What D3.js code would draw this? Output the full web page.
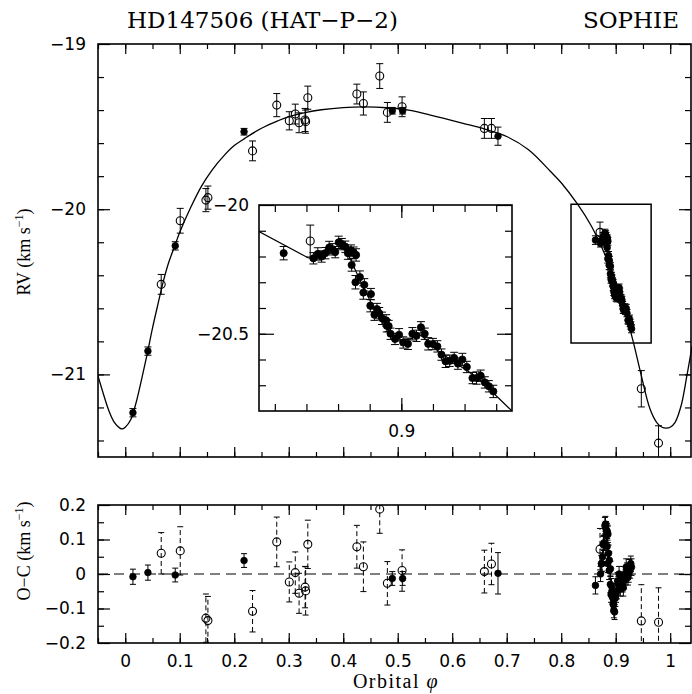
<!DOCTYPE html>
<html><head><meta charset="utf-8">
<script src="https://cdn.jsdelivr.net/npm/d3@7/dist/d3.min.js"></script>
<style>html,body{margin:0;padding:0;background:#fff;}svg{display:block;}</style>
</head><body>
<svg id="chart" width="692" height="694"></svg>
<script>
// ---------- text ----------
const titleText = "HD147506 (HAT−P−2)";
const instrumentText = "SOPHIE";
const xAxisTitle = ["Orbital ", "φ"];
const rvAxisTitle = ["RV (km s", "−1", ")"];
const ocAxisTitle = ["O−C (km s", "−1", ")"];

// ---------- ticks ----------
const xTickValues = [0, 0.1, 0.2, 0.3, 0.4, 0.5, 0.6, 0.7, 0.8, 0.9, 1];
const xTickLabels = ["0", "0.1", "0.2", "0.3", "0.4", "0.5", "0.6", "0.7", "0.8", "0.9", "1"];
const rvTickValues = [-19, -20, -21];
const rvTickLabels = ["−19", "−20", "−21"];
const ocTickValues = [0.2, 0.1, 0, -0.1, -0.2];
const ocTickLabels = ["0.2", "0.1", "0", "−0.1", "−0.2"];
const insetXTickValues = [0.9];
const insetXTickLabels = ["0.9"];
const insetYTickValues = [-20, -20.5];
const insetYTickLabels = ["−20", "−20.5"];

// ---------- domains ----------
const phaseDomain = [-0.05, 1.04];
const rvDomain = [-21.5, -19];
const ocDomain = [-0.2, 0.2];
const insetPhaseDomain = [0.855, 0.935];
const insetRVDomain = [-20.8, -20.0];
const zoomBoxPhase = [0.818, 0.965];
const zoomBoxRV = [-20.81, -19.97];

// ---------- data: out-of-transit measurements ----------
const obsPhase  = [0.0141, 0.0416, 0.066, 0.0917, 0.1009, 0.148, 0.1517, 0.218, 0.2336, 0.278, 0.301, 0.312, 0.319, 0.330, 0.331, 0.335, 0.425, 0.437, 0.467, 0.481, 0.490, 0.508, 0.509, 0.659, 0.672, 0.684, 0.947, 0.9786];
const obsRV     = [-21.232, -20.859, -20.455, -20.222, -20.070, -19.945, -19.930, -19.531, -19.647, -19.370, -19.465, -19.424, -19.477, -19.460, -19.470, -19.325, -19.303, -19.360, -19.194, -19.414, -19.404, -19.380, -19.404, -19.511, -19.511, -19.558, -21.087, -21.416];
const obsErr    = [0.025, 0.025, 0.060, 0.025, 0.075, 0.070, 0.070, 0.020, 0.060, 0.070, 0.055, 0.060, 0.060, 0.070, 0.070, 0.070, 0.060, 0.070, 0.075, 0.060, 0.020, 0.060, 0.020, 0.060, 0.060, 0.055, 0.110, 0.105];
const obsFilled = [1, 1, 0, 1, 0, 0, 0, 1, 0, 0, 0, 0, 0, 0, 0, 0, 0, 0, 0, 0, 1, 0, 1, 0, 0, 1, 0, 0];
const obsOC     = [-0.008, 0.004, 0.060, -0.003, 0.067, -0.128, -0.135, 0.039, -0.108, 0.093, -0.023, 0.004, -0.056, -0.038, -0.049, 0.086, 0.079, 0.021, 0.188, -0.027, -0.013, 0.010, -0.013, 0.007, 0.029, 0.002, -0.136, -0.140];
const obsOCErr  = [0.022, 0.022, 0.060, 0.020, 0.070, 0.070, 0.070, 0.020, 0.060, 0.072, 0.058, 0.060, 0.058, 0.060, 0.070, 0.070, 0.062, 0.072, 0.070, 0.063, 0.020, 0.060, 0.020, 0.062, 0.060, 0.060, 0.105, 0.100];

// ---------- data: transit night (inset) ----------
const trPhase = [0.8628, 0.8712, 0.8722, 0.8736, 0.8748, 0.8760, 0.8772, 0.8783, 0.8791, 0.8802, 0.8812, 0.8823, 0.8831, 0.8841, 0.8849, 0.8857, 0.8843, 0.8855, 0.8869, 0.8880, 0.8883, 0.8904, 0.8902, 0.8915, 0.8923, 0.8930, 0.8939, 0.8952, 0.8960, 0.8954, 0.8966, 0.8980, 0.8993, 0.9006, 0.9021, 0.9035, 0.9048, 0.9062, 0.9074, 0.9085, 0.9100, 0.9114, 0.9127, 0.9140, 0.9153, 0.9167, 0.9179, 0.9193, 0.9207, 0.9225, 0.9238, 0.9251, 0.9264, 0.9277, 0.9291];
const trRV    = [-20.187, -20.140, -20.207, -20.190, -20.200, -20.187, -20.165, -20.172, -20.183, -20.145, -20.152, -20.162, -20.187, -20.177, -20.185, -20.194, -20.233, -20.300, -20.280, -20.340, -20.310, -20.346, -20.391, -20.426, -20.404, -20.420, -20.440, -20.448, -20.470, -20.469, -20.500, -20.520, -20.504, -20.534, -20.539, -20.500, -20.508, -20.475, -20.500, -20.539, -20.540, -20.549, -20.581, -20.607, -20.605, -20.594, -20.616, -20.600, -20.629, -20.672, -20.672, -20.663, -20.689, -20.704, -20.724];
const trErr   = [0.026, 0.062, 0.022, 0.024, 0.022, 0.022, 0.024, 0.022, 0.022, 0.024, 0.022, 0.022, 0.024, 0.022, 0.022, 0.024, 0.024, 0.026, 0.024, 0.026, 0.024, 0.022, 0.024, 0.022, 0.022, 0.022, 0.024, 0.022, 0.022, 0.024, 0.022, 0.022, 0.024, 0.022, 0.022, 0.024, 0.022, 0.022, 0.022, 0.024, 0.022, 0.022, 0.022, 0.024, 0.022, 0.022, 0.022, 0.024, 0.022, 0.022, 0.024, 0.022, 0.022, 0.022, 0.024];
const trFilled = [1, 0, 1, 1, 1, 1, 1, 1, 1, 1, 1, 1, 1, 1, 1, 1, 1, 1, 1, 1, 1, 1, 1, 1, 1, 1, 1, 1, 1, 1, 1, 1, 1, 1, 1, 1, 1, 1, 1, 1, 1, 1, 1, 1, 1, 1, 1, 1, 1, 1, 1, 1, 1, 1, 1];
const trOC    = [-0.033, 0.072, 0.000, 0.030, 0.030, 0.050, 0.085, 0.090, 0.090, 0.140, 0.145, 0.130, 0.115, 0.125, 0.120, 0.115, 0.080, 0.030, 0.060, 0.010, 0.040, 0.015, -0.030, -0.060, -0.035, -0.050, -0.065, -0.070, -0.090, -0.085, -0.105, -0.110, -0.070, -0.060, -0.050, -0.020, -0.030, 0.000, -0.020, -0.040, -0.030, -0.020, -0.030, -0.040, -0.020, 0.000, -0.010, 0.020, 0.010, -0.010, 0.000, 0.020, 0.010, 0.030, 0.020];
const trOCErr = [0.025, 0.060, 0.022, 0.024, 0.022, 0.022, 0.024, 0.022, 0.022, 0.024, 0.022, 0.022, 0.024, 0.022, 0.022, 0.024, 0.024, 0.026, 0.024, 0.026, 0.024, 0.022, 0.024, 0.022, 0.022, 0.022, 0.024, 0.022, 0.022, 0.024, 0.022, 0.022, 0.024, 0.022, 0.022, 0.024, 0.022, 0.022, 0.022, 0.024, 0.022, 0.022, 0.022, 0.024, 0.022, 0.022, 0.022, 0.024, 0.022, 0.022, 0.024, 0.022, 0.022, 0.022, 0.024];

// ---------- model curves ----------
const modelPhase = [-0.05, -0.04, -0.03, -0.02, -0.01, -0.005, 0.0, 0.01, 0.02, 0.03, 0.04, 0.05, 0.06, 0.07, 0.08, 0.09, 0.10, 0.12, 0.14, 0.16, 0.18, 0.20, 0.22, 0.25, 0.28, 0.30, 0.33, 0.36, 0.40, 0.44, 0.48, 0.52, 0.56, 0.62, 0.66, 0.70, 0.74, 0.78, 0.80, 0.83, 0.855, 0.87, 0.89, 0.91, 0.932, 0.945, 0.963, 0.975, 0.985, 0.993, 1.0, 1.009, 1.02, 1.03, 1.04];
const modelRV    = [-21.01, -21.12, -21.22, -21.29, -21.325, -21.33, -21.32, -21.275, -21.17, -21.03, -20.88, -20.72, -20.575, -20.435, -20.32, -20.23, -20.14, -19.99, -19.86, -19.76, -19.68, -19.615, -19.57, -19.51, -19.465, -19.44, -19.415, -19.398, -19.385, -19.381, -19.386, -19.40, -19.43, -19.48, -19.515, -19.56, -19.64, -19.77, -19.84, -19.97, -20.10, -20.20, -20.35, -20.53, -20.80, -20.98, -21.21, -21.29, -21.32, -21.325, -21.32, -21.29, -21.19, -21.02, -20.83];
const insetModelPhase = [0.855, 0.8705, 0.8725, 0.876, 0.8795, 0.8815, 0.8835, 0.888, 0.893, 0.8965, 0.900, 0.903, 0.9055, 0.9075, 0.911, 0.916, 0.921, 0.926, 0.9295, 0.935];
const insetModelRV    = [-20.103, -20.205, -20.21, -20.195, -20.17, -20.165, -20.20, -20.32, -20.44, -20.50, -20.525, -20.52, -20.50, -20.52, -20.56, -20.605, -20.645, -20.69, -20.735, -20.80];

// ================= drawing =================
const svg = d3.select("#chart");
const SERIF = "'DejaVu Serif', serif";
const LSERIF = "'Liberation Serif', serif";
const SANS = "'DejaVu Sans', sans-serif";

const L = 98, R = 692, T1 = 44, B1 = 457, T2 = 505, B2 = 643;
const IL = 259, IR = 512, IT = 205, IB = 411;

const x = d3.scaleLinear().domain(phaseDomain).range([L, R]);
const y = d3.scaleLinear().domain(rvDomain).range([B1, T1]);
const yo = d3.scaleLinear().domain(ocDomain).range([B2, T2]);
const xi = d3.scaleLinear().domain(insetPhaseDomain).range([IL, IR]);
const yi = d3.scaleLinear().domain(insetRVDomain).range([IB, IT]);

const obs = obsPhase.map((p, i) => ({p, v: obsRV[i], e: obsErr[i], f: obsFilled[i], oc: obsOC[i], oce: obsOCErr[i]}));
const tr = trPhase.map((p, i) => ({p, v: trRV[i], e: trErr[i], f: trFilled[i], oc: trOC[i], oce: trOCErr[i]}));
const all = obs.concat(tr);

const defs = svg.append("defs");
function clip(id, x0, y0, x1, y1) {
  defs.append("clipPath").attr("id", id).append("rect")
    .attr("x", x0).attr("y", y0).attr("width", x1 - x0).attr("height", y1 - y0);
}
clip("cMain", L, T1, R, B1);
clip("cLow", L, T2, R, B2);
clip("cIn", IL, IT, IR, IB);

function styleAxis(g, font, size) {
  g.select(".domain").remove();
  g.selectAll(".tick line").attr("stroke", "#000").attr("stroke-width", 1.2);
  g.attr("font-family", font).attr("font-size", size);
  g.selectAll("text").attr("fill", "#000");
}
function addAxis(gen, tx, ty, font, size) {
  const g = svg.append("g").attr("transform", `translate(${tx},${ty})`).call(gen);
  styleAxis(g, font, size);
  return g;
}

// ---- title ----
svg.append("text").attr("x", 127).attr("y", 28).attr("font-family", SERIF).attr("font-size", 23).text(titleText);
svg.append("text").attr("x", 679).attr("y", 28).attr("text-anchor", "end").attr("font-family", SERIF).attr("font-size", 23).text(instrumentText);

// ---- panel axes ----
const xMinor = d3.range(-0.05, 1.045, 0.05);
function xAxes(top, bottom) {
  addAxis(d3.axisBottom(x).tickValues(xMinor).tickSize(-5).tickFormat(""), 0, bottom, SANS, 17);
  addAxis(d3.axisTop(x).tickValues(xMinor).tickSize(-5).tickFormat(""), 0, top, SANS, 17);
  addAxis(d3.axisTop(x).tickValues(xTickValues).tickSize(-10).tickFormat(""), 0, top, SANS, 17);
}
xAxes(T1, B1);
addAxis(d3.axisBottom(x).tickValues(xTickValues).tickSize(-10).tickFormat(""), 0, B1, SANS, 17);
xAxes(T2, B2);
addAxis(d3.axisBottom(x).tickValues(xTickValues).tickSize(-10).tickPadding(12)
  .tickFormat((d, i) => xTickLabels[i]), 0, B2, SANS, 17);

const rvMinor = d3.range(-21.4, -19.05, 0.2);
addAxis(d3.axisLeft(y).tickValues(rvMinor).tickSize(-6).tickFormat(""), L, 0, SANS, 17);
addAxis(d3.axisRight(y).tickValues(rvMinor).tickSize(-6).tickFormat(""), R - 1, 0, SANS, 17);
addAxis(d3.axisLeft(y).tickValues(rvTickValues).tickSize(-12).tickPadding(12)
  .tickFormat((d, i) => rvTickLabels[i]), L, 0, SANS, 17);
addAxis(d3.axisRight(y).tickValues(rvTickValues).tickSize(-12).tickFormat(""), R - 1, 0, SANS, 17);

const ocMinor = d3.range(-0.15, 0.2, 0.05);
addAxis(d3.axisLeft(yo).tickValues(ocMinor).tickSize(-6).tickFormat(""), L, 0, SANS, 17);
addAxis(d3.axisRight(yo).tickValues(ocMinor).tickSize(-6).tickFormat(""), R - 1, 0, SANS, 17);
addAxis(d3.axisLeft(yo).tickValues(ocTickValues).tickSize(-12).tickPadding(12)
  .tickFormat((d, i) => ocTickLabels[i]), L, 0, SANS, 17);
addAxis(d3.axisRight(yo).tickValues(ocTickValues).tickSize(-12).tickFormat(""), R - 1, 0, SANS, 17);

// frames
function frame(x0, y0, x1, y1, w) {
  svg.append("rect").attr("x", x0).attr("y", y0).attr("width", x1 - x0).attr("height", y1 - y0)
    .attr("fill", "none").attr("stroke", "#000").attr("stroke-width", w);
}
frame(L, T1, R - 1, B1, 1.6);
frame(L, T2, R - 1, B2, 1.6);

// ---- axis titles ----
function rotLabel(parts, cx, cy) {
  const t = svg.append("text").attr("transform", `translate(${cx},${cy}) rotate(-90)`)
    .attr("text-anchor", "middle").attr("font-family", LSERIF).attr("font-size", 18);
  t.append("tspan").text(parts[0]);
  t.append("tspan").attr("dy", -7).attr("font-size", 12).text(parts[1]);
  t.append("tspan").attr("dy", 7).text(parts[2]);
}
rotLabel(rvAxisTitle, 30, 252);
rotLabel(ocAxisTitle, 30, 551);

const xt = svg.append("text").attr("x", 396).attr("y", 688).attr("text-anchor", "middle")
  .attr("font-family", LSERIF).attr("font-size", 20).attr("letter-spacing", 1.5);
xt.append("tspan").text(xAxisTitle[0]);
xt.append("tspan").attr("font-style", "italic").text(xAxisTitle[1]);

// ---- generic point drawer ----
function drawPoints(g, data, xs, ys, valKey, errKey, opt) {
  const eb = g.append("g").attr("stroke", "#000").attr("stroke-width", 1);
  data.forEach(d => {
    const cx = xs(d.p), y0 = ys(d[valKey] - d[errKey]), y1 = ys(d[valKey] + d[errKey]);
    const dash = (!d.f && opt.dashOpen) ? "5,3" : null;
    eb.append("line").attr("x1", cx).attr("x2", cx).attr("y1", y0).attr("y2", y1).attr("stroke-dasharray", dash);
    eb.append("line").attr("x1", cx - opt.cap).attr("x2", cx + opt.cap).attr("y1", y0).attr("y2", y0);
    eb.append("line").attr("x1", cx - opt.cap).attr("x2", cx + opt.cap).attr("y1", y1).attr("y2", y1);
  });
  g.append("g").selectAll("circle").data(data).join("circle")
    .attr("cx", d => xs(d.p)).attr("cy", d => ys(d[valKey]))
    .attr("r", d => d.f ? opt.rf : opt.ro)
    .attr("fill", d => d.f ? "#000" : "none")
    .attr("stroke", "#000").attr("stroke-width", d => d.f ? 0.8 : 1.1);
}

// ---- main panel ----
const gMain = svg.append("g").attr("clip-path", "url(#cMain)");
const line = d3.line().x(d => x(d[0])).y(d => y(d[1])).curve(d3.curveCatmullRom);
gMain.append("path").datum(modelPhase.map((p, i) => [p, modelRV[i]]))
  .attr("d", line).attr("fill", "none").attr("stroke", "#000").attr("stroke-width", 1.3);
drawPoints(gMain, all, x, y, "v", "e", {cap: 3.5, rf: 3.3, ro: 4, dashOpen: false});

// zoom box
svg.append("rect").attr("x", x(zoomBoxPhase[0])).attr("y", y(zoomBoxRV[1]))
  .attr("width", x(zoomBoxPhase[1]) - x(zoomBoxPhase[0])).attr("height", y(zoomBoxRV[0]) - y(zoomBoxRV[1]))
  .attr("fill", "none").attr("stroke", "#000").attr("stroke-width", 1.5);

// ---- inset ----
svg.append("rect").attr("x", IL).attr("y", IT).attr("width", IR - IL).attr("height", IB - IT).attr("fill", "#fff");
const ixMinor = d3.range(0.86, 0.9345, 0.01);
const iyMinor = d3.range(-20.7, -20.05, 0.1);
addAxis(d3.axisBottom(xi).tickValues(ixMinor).tickSize(-7).tickFormat(""), 0, IB, SANS, 17);
addAxis(d3.axisTop(xi).tickValues(ixMinor).tickSize(-7).tickFormat(""), 0, IT, SANS, 17);
addAxis(d3.axisBottom(xi).tickValues(insetXTickValues).tickSize(-13).tickPadding(14)
  .tickFormat((d, i) => insetXTickLabels[i]), 0, IB, SANS, 17);
addAxis(d3.axisTop(xi).tickValues(insetXTickValues).tickSize(-13).tickFormat(""), 0, IT, SANS, 17);
addAxis(d3.axisLeft(yi).tickValues(iyMinor).tickSize(-7).tickFormat(""), IL, 0, SANS, 17);
addAxis(d3.axisRight(yi).tickValues(iyMinor).tickSize(-7).tickFormat(""), IR, 0, SANS, 17);
addAxis(d3.axisLeft(yi).tickValues(insetYTickValues).tickSize(-15).tickPadding(10)
  .tickFormat((d, i) => insetYTickLabels[i]), IL, 0, SANS, 17);
addAxis(d3.axisRight(yi).tickValues(insetYTickValues).tickSize(-15).tickFormat(""), IR, 0, SANS, 17);

const gIn = svg.append("g").attr("clip-path", "url(#cIn)");
const iline = d3.line().x(d => xi(d[0])).y(d => yi(d[1]));
gIn.append("path").datum(insetModelPhase.map((p, i) => [p, insetModelRV[i]]))
  .attr("d", iline).attr("fill", "none").attr("stroke", "#000").attr("stroke-width", 1.2);
drawPoints(gIn, tr, xi, yi, "v", "e", {cap: 4, rf: 3.6, ro: 4, dashOpen: false});
frame(IL, IT, IR, IB, 1.6);

// ---- lower panel ----
const gLow = svg.append("g").attr("clip-path", "url(#cLow)");
gLow.append("line").attr("x1", L).attr("x2", R).attr("y1", yo(0)).attr("y2", yo(0))
  .attr("stroke", "#000").attr("stroke-width", 1).attr("stroke-dasharray", "10,6");
drawPoints(gLow, all, x, yo, "oc", "oce", {cap: 3, rf: 3.3, ro: 4, dashOpen: true});
</script>
</body></html>
